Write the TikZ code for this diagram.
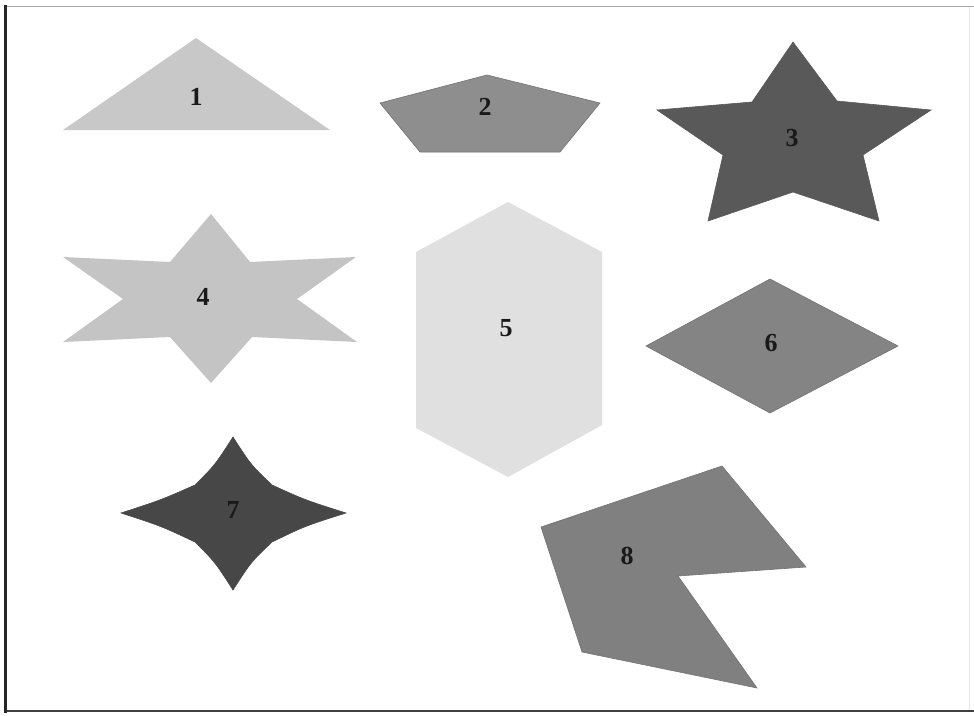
\documentclass[tikz,border=0pt]{standalone}
\usepackage{fontspec}
\setmainfont{Liberation Serif}
\begin{document}
\begin{tikzpicture}[x=1pt,y=-1pt,
  lbl/.style={font=\fontsize{26}{26}\selectfont\bfseries, text=black!90, inner sep=0pt},
  shp/.style={line width=0.6pt, line join=miter}]
\definecolor{cA}{HTML}{C8C8C8}
\definecolor{cB}{HTML}{8E8E8E}
\definecolor{cC}{HTML}{595959}
\definecolor{cD}{HTML}{C4C4C4}
\definecolor{cE}{HTML}{E0E0E0}
\definecolor{cF}{HTML}{848484}
\definecolor{cG}{HTML}{474747}
\definecolor{cH}{HTML}{808080}
\useasboundingbox (0,0) rectangle (974,715);
\fill[white] (0,0) rectangle (974,715);
% frame
\draw[gray!70, line width=1.2pt] (6,6.5) -- (974,6.5);
\draw[gray!20, line width=1pt] (969,6.5) -- (969,711);
\draw[black!75, line width=1.5pt] (6,711) -- (974,711);
\draw[black!85, line width=3pt] (5,5) -- (5,713);
% 1 triangle
\fill[cA] (196,38) -- (330,130) -- (63,130) -- cycle;
\node[lbl] (n1) at (196,97) {1};
% 2 pentagon
\filldraw[cB, draw=black!55, shp] (487,75) -- (600,103) -- (560,152) -- (420,152) -- (380,103) -- cycle;
\node[lbl] (n2) at (485,107) {2};
% 3 star
\filldraw[cC, draw=cC, shp] (793,42) -- (837,101) -- (931,110) -- (863,155) -- (879,221)
  -- (793,192) -- (708,221) -- (723,155) -- (657,110) -- (752,102) -- cycle;
\node[lbl] (n3) at (792,138) {3};
% 4 six-point star
\fill[cD] (211,214) -- (250,262) -- (356,257) -- (297,299) -- (357,342) -- (252,337)
  -- (211,383) -- (170,337) -- (63,342) -- (123,299) -- (63,257) -- (170,262) -- cycle;
\node[lbl] (n4) at (203,297) {4};
% 5 hexagon
\fill[cE] (508,202) -- (602,252) -- (602,425) -- (508,477) -- (416,428) -- (416,252) -- cycle;
\node[lbl] (n5) at (506,328) {5};
% 6 diamond
\filldraw[cF, draw=black!55, shp] (770,279) -- (898,346) -- (770,413) -- (646,346) -- cycle;
\node[lbl] (n6) at (771,343) {6};
% 7 four-point star
\filldraw[cG, draw=cG, shp] (233,437) .. controls (251,465) .. (272,485)
  .. controls (305,500) .. (346,513) .. controls (305,526) .. (272,542)
  .. controls (251,562) .. (233,590) .. controls (215,562) .. (195,542)
  .. controls (161,526) .. (121,513) .. controls (161,500) .. (195,485)
  .. controls (215,465) .. cycle;
\node[lbl] (n7) at (233,510) {7};
% 8 concave polygon
\filldraw[cH, draw=black!55, shp] (541,527) -- (722,466) -- (806,567) -- (678,576)
  -- (757,688) -- (582,652) -- cycle;
\node[lbl] (n8) at (627,556) {8};
\end{tikzpicture}
\end{document}
